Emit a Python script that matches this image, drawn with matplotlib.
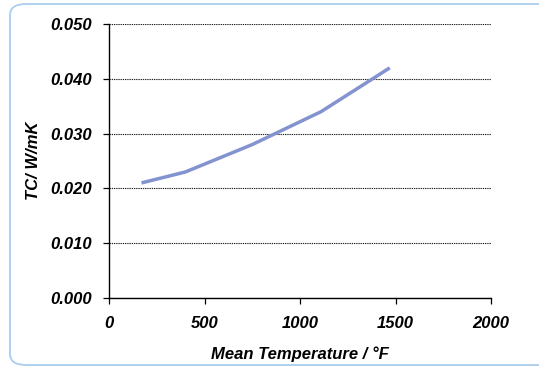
import matplotlib
matplotlib.use("Agg")
import matplotlib.pyplot as plt
from matplotlib.patches import FancyBboxPatch

# data
temps_f = [170, 400, 750, 1110, 1470]
tc = [0.021, 0.023, 0.028, 0.034, 0.042]
x_ticks = [0, 500, 1000, 1500, 2000]
y_ticks = [0.000, 0.010, 0.020, 0.030, 0.040, 0.050]

plt.rcParams['font.family'] = ['Liberation Sans', 'DejaVu Sans']

fig = plt.figure(figsize=(5.39, 3.67), dpi=100)
ax = fig.add_axes([109 / 539, 1 - 298 / 367, 382 / 539, 274 / 367])

# rounded light blue frame
frame = FancyBboxPatch((10 / 539, 2 / 367), 1.2, 1.0 - 6 / 367,
                       boxstyle="round,pad=0,rounding_size=0.03",
                       transform=fig.transFigure, fill=False,
                       edgecolor="#a9cdee", linewidth=1.3, zorder=0)
fig.patches.append(frame)

ax.plot(temps_f, tc, color="#8393d0", linewidth=2.5, solid_capstyle="butt")

ax.set_xlim(0, 2000)
ax.set_ylim(0, 0.05)
ax.set_xticks(x_ticks)
ax.set_yticks(y_ticks)
ax.set_yticklabels([f"{v:.3f}" for v in y_ticks])
ax.yaxis.grid(True, color="#222222", linestyle=(0, (1.2, 0.8)), linewidth=0.8)
ax.set_axisbelow(True)

for s in ["top", "right"]:
    ax.spines[s].set_visible(False)
ax.spines["left"].set_linewidth(1.0)
ax.spines["bottom"].set_linewidth(1.0)
ax.tick_params(direction="out", length=4, width=0.9, labelsize=12)
ax.tick_params(axis="x", pad=9)
ax.tick_params(axis="y", pad=8)
for lab in ax.get_xticklabels() + ax.get_yticklabels():
    lab.set_fontweight("bold")
    lab.set_fontstyle("italic")

ax.set_xlabel("Mean Temperature / °F", fontsize=12, fontweight="bold",
              fontstyle="italic", labelpad=11)
ax.set_ylabel("TC/ W/mK", fontsize=12, fontweight="bold",
              fontstyle="italic", labelpad=7)

fig.savefig("out.png", dpi=100)
